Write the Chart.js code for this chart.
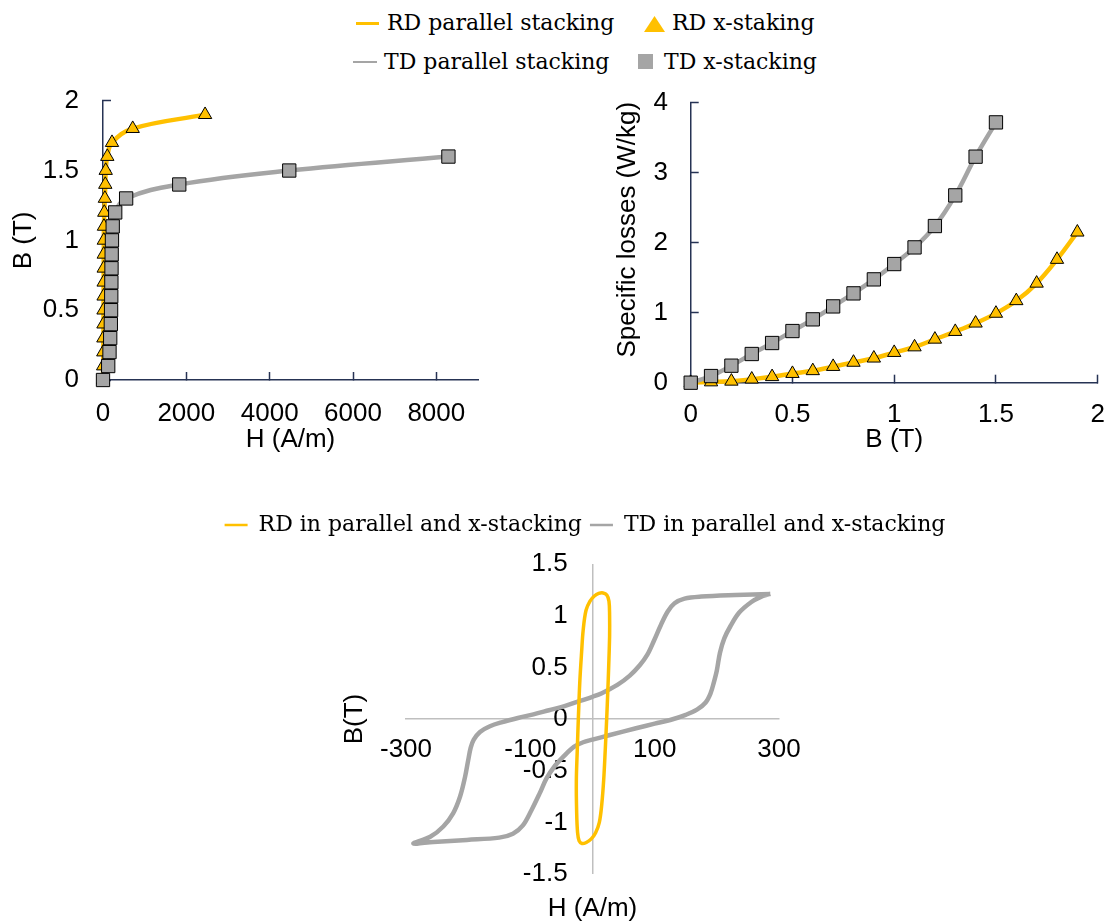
<!DOCTYPE html>
<html>
<head>
<meta charset="utf-8">
<script src="https://cdn.jsdelivr.net/npm/chart.js@4.4.1/dist/chart.umd.min.js"></script>
<style>
html,body{margin:0;padding:0;background:#fff;width:1109px;height:922px;overflow:hidden;position:relative;}
canvas{position:absolute;}
.lg{position:absolute;font-family:"DejaVu Serif",serif;font-size:22px;line-height:22px;color:#000;white-space:nowrap;}
.ln{position:absolute;height:2.5px;}
</style>
</head>
<body>
<div id="topLegend"></div>
<canvas id="c1" width="500" height="380" style="left:0px;top:80px"></canvas>
<canvas id="c2" width="549" height="380" style="left:560px;top:80px"></canvas>
<canvas id="c3" width="1048" height="440" style="left:61px;top:495px"></canvas>
<script>
// ---------- data ----------
const topSeries = ['RD parallel stacking', 'RD x-staking', 'TD parallel stacking', 'TD x-stacking'];
const loopSeries = ['RD in parallel and x-stacking', 'TD in parallel and x-stacking'];

// B-H curves (H in A/m, B in T)
const bhRdB = [0,0.1,0.2,0.3,0.4,0.5,0.6,0.7,0.8,0.9,1.0,1.1,1.2,1.3,1.4,1.5,1.6,1.7,1.8,1.9];
const bhRdH = [0,4,7,9,11,12,14,15,17,18,20,23,31,45,55,65,103,216,713,2450];
const bhTdB = [0,0.1,0.2,0.3,0.4,0.5,0.6,0.7,0.8,0.9,1.0,1.1,1.2,1.3,1.4,1.5,1.6];
const bhTdH = [0,125,156,173,188,194,198,201,204,208,215,233,293,555,1830,4470,8290];

// Specific losses (W/kg) vs B (T)
const lossRdB = [0,0.1,0.2,0.3,0.4,0.5,0.6,0.7,0.8,0.9,1.0,1.1,1.2,1.3,1.4,1.5,1.6,1.7,1.8,1.9];
const lossRdP = [0,0.01,0.02,0.05,0.085,0.13,0.17,0.23,0.29,0.35,0.43,0.51,0.62,0.73,0.85,0.99,1.17,1.42,1.76,2.15];
const lossTdB = [0,0.1,0.2,0.3,0.4,0.5,0.6,0.7,0.8,0.9,1.0,1.1,1.2,1.3,1.4,1.5];
const lossTdP = [0,0.095,0.243,0.41,0.567,0.738,0.905,1.09,1.276,1.476,1.695,1.933,2.238,2.676,3.229,3.719];

// Hysteresis loops
const loopRdH = [-22.8,-20.5,-17.5,-15,-10.5,-4,3,10,17,23,26.5,27.5,27.5,26,24.5,22.8,20.5,18,15,11,5,-2,-10,-17,-21.5,-24,-25.5,-26,-24.5,-22.8];
const loopRdB = [0,0.35,0.65,0.86,1.05,1.14,1.19,1.215,1.22,1.2,1.14,1.0,0.8,0.5,0.25,0,-0.3,-0.59,-0.82,-1.0,-1.1,-1.16,-1.195,-1.205,-1.18,-1.1,-0.9,-0.6,-0.3,0];
const loopTdH = [286,230,175,148,132,121,110,99,88,76,60,40,15,0,-20,-45,-70,-95,-120,-145,-165,-181,-191,-196,-200,-205,-213,-224,-240,-261,-288,
                 -256,-202,-150,-128,-112,-98,-85,-74,-60,-47,-30,-15,0,28,70,100,125,150,168,182,190,195,200,205,212,222,236,255,270,286];
const loopTdB = [1.21,1.2,1.185,1.165,1.12,1.04,0.91,0.76,0.62,0.52,0.42,0.33,0.25,0.215,0.175,0.125,0.085,0.045,0.01,-0.03,-0.07,-0.125,-0.2,-0.28,-0.4,-0.56,-0.75,-0.91,-1.04,-1.14,-1.205,
                 -1.19,-1.17,-1.148,-1.11,-1.03,-0.88,-0.72,-0.575,-0.45,-0.365,-0.27,-0.225,-0.2,-0.155,-0.09,-0.045,-0.01,0.04,0.09,0.16,0.25,0.35,0.47,0.64,0.78,0.9,1.03,1.13,1.18,1.21];

// tick labels
const bhXTicks = [0,2000,4000,6000,8000];
const loopXTicks = [-300,-100,0,100,300];

// ---------- styles ----------
const YEL = '#FFC000', GRAY = '#A5A5A5', AX = '#263354', TXT = '#000';
const SANS = "'Liberation Sans', Arial, sans-serif";
const F26 = {family: SANS, size: 26, weight: 'normal'};
const fmt = v => String(Math.round(v * 1000) / 1000);

function zip(xs, ys) { return xs.map((x, i) => ({x: x, y: ys[i]})); }

// HTML legend for the top pair of charts
(function () {
  const host = document.getElementById('topLegend');
  host.innerHTML =
    '<div class="ln" style="left:356px;top:22px;width:23px;background:' + YEL + '"></div>' +
    '<div class="lg" style="left:387px;top:12.4px">' + topSeries[0] + '</div>' +
    '<svg style="position:absolute;left:644px;top:16px" width="21" height="16"><polygon points="10.5,0 21,16 0,16" fill="' + YEL + '"/></svg>' +
    '<div class="lg" style="left:672px;top:12.4px">' + topSeries[1] + '</div>' +
    '<div class="ln" style="left:353px;top:60.5px;width:24px;background:' + GRAY + '"></div>' +
    '<div class="lg" style="left:384px;top:50.9px">' + topSeries[2] + '</div>' +
    '<div style="position:absolute;left:638px;top:54px;width:15px;height:15px;background:' + GRAY + '"></div>' +
    '<div class="lg" style="left:664px;top:50.9px">' + topSeries[3] + '</div>';
})();

function topDatasets(rdX, rdY, tdX, tdY) {
  return [
    {label: topSeries[3], data: zip(tdX, tdY), showLine: false, pointStyle: 'rect', pointRadius: 9.4,
     backgroundColor: GRAY, borderColor: '#000', borderWidth: 1, order: 0, clip: false},
    {label: topSeries[2], data: zip(tdX, tdY), showLine: true, pointRadius: 0, borderColor: GRAY,
     backgroundColor: GRAY, borderWidth: 4.5, tension: 0.4, order: 1, clip: false},
    {label: topSeries[1], data: zip(rdX, rdY), showLine: false, pointStyle: 'triangle', pointRadius: 7.7,
     backgroundColor: YEL, borderColor: '#000', borderWidth: 1, order: 2, clip: false},
    {label: topSeries[0], data: zip(rdX, rdY), showLine: true, pointRadius: 0, borderColor: YEL,
     backgroundColor: YEL, borderWidth: 4.5, tension: 0.4, order: 3, clip: false}
  ];
}

function navyAxis(extra) {
  return Object.assign({
    type: 'linear',
    border: {display: true, color: AX, width: 1.5},
    grid: {display: true, drawOnChartArea: false, drawTicks: true, tickLength: -8, tickColor: AX, tickWidth: 1.5},
  }, extra);
}
function fixX(h) { return s => { s.height = h; s.paddingLeft = 0; s.paddingRight = 0; }; }
function fixY(w) { return s => { s.width = w; s.paddingTop = 0; s.paddingBottom = 0; }; }

const commonPlugins = {legend: {display: false}, tooltip: {enabled: false}, title: {display: false}};

// ---------- chart 1: B-H ----------
new Chart(document.getElementById('c1'), {
  type: 'scatter',
  data: {datasets: topDatasets(bhRdH, bhRdB, bhTdH, bhTdB)},
  options: {
    responsive: false, animation: false, events: [],
    layout: {padding: {left: 0, right: 22, top: 20.7, bottom: 0}},
    plugins: commonPlugins,
    scales: {
      x: navyAxis({
        min: 0, max: 9000,
        afterBuildTicks: s => { s.ticks = bhXTicks.map(v => ({value: v})); },
        afterFit: fixX(80),
        ticks: {color: TXT, font: F26, padding: 26.4, maxRotation: 0, autoSkip: false, callback: fmt},
        title: {display: true, text: 'H (A/m)', color: TXT, font: F26, padding: {top: 0, bottom: 4.4}}
      }),
      y: navyAxis({
        min: 0, max: 2,
        afterFit: fixY(103),
        ticks: {stepSize: 0.5, color: TXT, font: F26, padding: 32, callback: fmt},
        title: {display: true, text: 'B (T)', color: TXT, font: F26, padding: {top: 8.4, bottom: 0}}
      })
    }
  }
});

// ---------- chart 2: losses ----------
new Chart(document.getElementById('c2'), {
  type: 'scatter',
  data: {datasets: topDatasets(lossRdB, lossRdP, lossTdB, lossTdP)},
  options: {
    responsive: false, animation: false, events: [],
    layout: {padding: {left: 0, right: 11.3, top: 22.7, bottom: 0}},
    plugins: commonPlugins,
    scales: {
      x: navyAxis({
        min: 0, max: 2,
        afterFit: fixX(77.3),
        ticks: {stepSize: 0.5, color: TXT, font: F26, padding: 24.7, maxRotation: 0, autoSkip: false, callback: fmt},
        title: {display: true, text: 'B (T)', color: TXT, font: F26, padding: {top: 0, bottom: 4.4}}
      }),
      y: navyAxis({
        min: 0, max: 4,
        afterFit: fixY(130.7),
        ticks: {stepSize: 1, color: TXT, font: F26, padding: 30.7, callback: fmt},
        title: {display: true, text: '\u2002\u2002Specific losses (W/kg)', color: TXT, font: F26, padding: {top: 52.4, bottom: 0}}
      })
    }
  }
});

// ---------- chart 3: hysteresis loops ----------
const legendGap = {
  id: 'legendGap',
  beforeLayout(chart) {
    const lg = chart.legend;
    if (lg && !lg._gapPatched) {
      const orig = lg.fit;
      lg.fit = function () { orig.call(this); this.height += 18; };
      lg._gapPatched = true;
    }
  }
};

new Chart(document.getElementById('c3'), {
  type: 'scatter',
  data: {datasets: [
    {label: loopSeries[0], data: zip(loopRdH, loopRdB), showLine: true, pointRadius: 0,
     borderColor: YEL, backgroundColor: YEL, borderWidth: 3.5, tension: 0.35, clip: false},
    {label: loopSeries[1], data: zip(loopTdH, loopTdB), showLine: true, pointRadius: 0,
     borderColor: GRAY, backgroundColor: GRAY, borderWidth: 4.5, tension: 0.35, clip: false}
  ]},
  plugins: [legendGap],
  options: {
    responsive: false, animation: false, events: [],
    layout: {padding: {left: 0, right: 0, top: 11, bottom: 10.4}},
    plugins: {
      tooltip: {enabled: false},
      legend: {
        display: true, position: 'top',
        labels: {
          color: TXT, font: {family: "'DejaVu Serif', serif", size: 22},
          boxWidth: 23, boxHeight: 2.5, padding: 8,
          generateLabels: chart => chart.data.datasets.map((d, i) => ({
            text: d.label, fillStyle: d.borderColor, strokeStyle: d.borderColor,
            lineWidth: 0, hidden: false, datasetIndex: i, fontColor: TXT
          }))
        }
      },
      title: {display: true, position: 'bottom', text: 'H (A/m)', color: TXT, font: F26,
              padding: {top: 19.4, bottom: 0}, fullSize: false},
      subtitle: {display: true, position: 'left', text: 'B(T)', color: TXT, font: F26,
                 padding: {top: 278.4, bottom: 35.4}, fullSize: false}
    },
    scales: {
      x: {
        type: 'linear', min: -300, max: 300, position: {y: 0},
        afterBuildTicks: s => { s.ticks = loopXTicks.map(v => ({value: v})); },
        afterFit: s => { s.height = 0; },
        border: {display: true, color: '#BFBFBF', width: 1.5},
        grid: {display: true, drawOnChartArea: true, drawTicks: false, lineWidth: 1.5,
               color: c => (c.tick && c.tick.value === 0) ? '#BFBFBF' : 'rgba(0,0,0,0)'},
        ticks: {color: TXT, font: F26, padding: 15.4, maxRotation: 0, autoSkip: false,
                callback: v => (v === 0 ? '' : fmt(v))}
      },
      y: {
        type: 'linear', min: -1.5, max: 1.5, position: {x: -40},
        afterFit: s => { s.width = 0; },
        border: {display: false}, grid: {display: false},
        ticks: {stepSize: 0.5, color: TXT, font: F26, callback: fmt}
      },
      ySpace: {
        type: 'linear', position: 'right', min: 0, max: 1, display: true,
        afterFit: fixY(330),
        border: {display: false}, grid: {display: false}, ticks: {display: false}
      }
    }
  }
});
</script>
</body>
</html>
